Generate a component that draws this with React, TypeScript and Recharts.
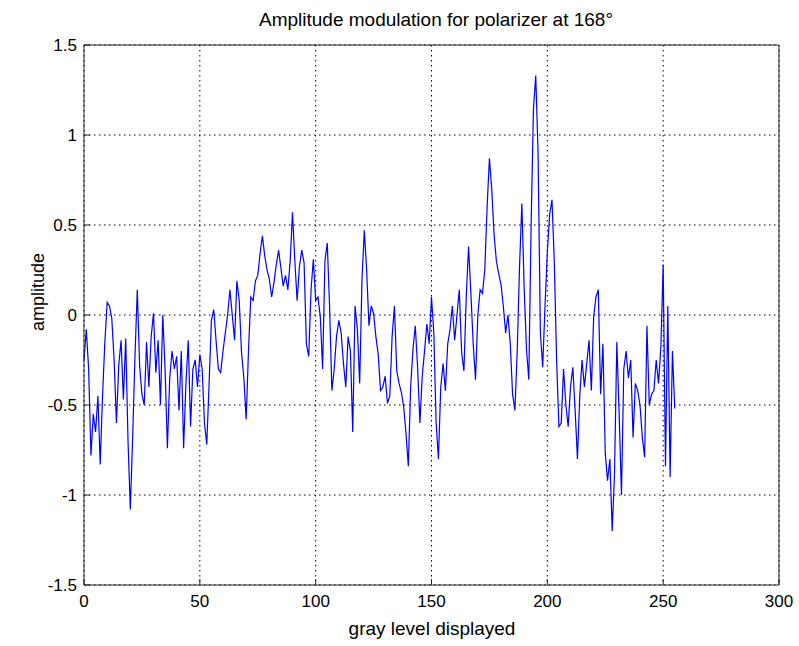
import React from "react";
import { LineChart, Line, XAxis, YAxis, CartesianGrid } from "recharts";

const TITLE = "Amplitude modulation for polarizer at 168°";
const X_LABEL = "gray level displayed";
const Y_LABEL = "amplitude";

const X_TICKS = [0, 50, 100, 150, 200, 250, 300];
const Y_TICKS = [-1.5, -1, -0.5, 0, 0.5, 1, 1.5];

// amplitude, gray levels 0..255 in four chunks
const AMP_A = [
  -0.25, -0.08, -0.3, -0.78, -0.55, -0.65, -0.45, -0.83, -0.45, -0.15, 0.07, 0.05, -0.02, -0.25, -0.6, -0.28,
  -0.14, -0.47, -0.13, -0.7, -1.08, -0.68, -0.23, 0.14, -0.28, -0.44, -0.5, -0.15, -0.4, -0.12, 0.01, -0.32,
  -0.14, -0.5, 0.0, -0.3, -0.74, -0.35, -0.2, -0.3, -0.23, -0.53, -0.2, -0.74, -0.38, -0.14, -0.62, -0.3,
  -0.25, -0.4, -0.22, -0.3, -0.6, -0.72, -0.38, -0.03, 0.03, -0.14, -0.3, -0.32, -0.2, -0.1, 0.0, 0.14,
];
const AMP_B = [
  0.0, -0.14, 0.19, 0.08, -0.21, -0.35, -0.58, -0.2, 0.1, 0.08, 0.19, 0.22, 0.34, 0.44, 0.33, 0.25,
  0.2, 0.1, 0.18, 0.28, 0.36, 0.26, 0.16, 0.22, 0.14, 0.3, 0.57, 0.3, 0.08, 0.27, 0.36, 0.29,
  -0.16, -0.23, 0.14, 0.31, 0.08, 0.1, -0.01, -0.3, 0.3, 0.4, 0.05, -0.42, -0.3, -0.12, -0.03, -0.1,
  -0.27, -0.4, -0.12, -0.2, -0.65, 0.05, -0.08, -0.38, 0.2, 0.47, 0.25, -0.06, 0.05, 0.01, -0.12, -0.22,
];
const AMP_C = [
  -0.42, -0.4, -0.34, -0.49, -0.45, -0.12, 0.05, -0.31, -0.38, -0.43, -0.51, -0.66, -0.84, -0.4, -0.19, -0.06,
  -0.29, -0.6, -0.34, -0.2, -0.05, -0.16, 0.1, -0.1, -0.6, -0.8, -0.4, -0.27, -0.42, -0.16, -0.08, 0.05,
  -0.14, 0.0, 0.14, -0.21, -0.31, 0.1, 0.38, 0.12, -0.16, -0.36, 0.0, 0.14, 0.12, 0.25, 0.6, 0.87,
  0.7, 0.45, 0.3, 0.23, 0.17, 0.05, -0.1, 0.0, -0.16, -0.44, -0.53, -0.2, 0.27, 0.62, 0.15, -0.19,
];
const AMP_D = [
  -0.36, 0.5, 1.14, 1.33, 0.9, -0.1, -0.29, 0.05, 0.35, 0.56, 0.64, 0.3, -0.25, -0.62, -0.6, -0.3,
  -0.5, -0.62, -0.4, -0.29, -0.53, -0.8, -0.45, -0.25, -0.4, -0.27, -0.14, -0.42, -0.01, 0.1, 0.14, -0.44,
  -0.16, -0.77, -0.92, -0.8, -1.2, -0.88, -0.15, -0.55, -1.0, -0.3, -0.2, -0.35, -0.25, -0.68, -0.38, -0.42,
  -0.5, -0.68, -0.79, -0.06, -0.5, -0.44, -0.42, -0.25, -0.38, -0.18, 0.28, -0.84, 0.05, -0.9, -0.2, -0.52,
];

const AMPLITUDE = [...AMP_A, ...AMP_B, ...AMP_C, ...AMP_D];
const data = AMPLITUDE.map((v, i) => ({ level: i, amp: v }));

const FONT = "'Liberation Sans', Arial, sans-serif";
const tickStyle = { fill: "#000", fontSize: 17, fontFamily: FONT };
const AXIS = "#222";

const textBase: React.CSSProperties = {
  position: "absolute",
  fontFamily: FONT,
  fontSize: 18,
  color: "#000",
  whiteSpace: "nowrap",
  lineHeight: 1,
};

export default function App() {
  return (
    <div style={{ position: "absolute", left: 0, top: 0, width: 799, height: 646, background: "#fff" }}>
      <LineChart width={799} height={646} data={data} margin={{ top: 40, right: 15, bottom: 31, left: 24 }}>
        <CartesianGrid stroke="#000" strokeDasharray="1.5 3.5" vertical horizontal />
        <XAxis
          dataKey="level"
          type="number"
          domain={[0, 300]}
          ticks={X_TICKS}
          height={30}
          tick={tickStyle}
          tickSize={-6}
          tickMargin={16}
          axisLine={{ stroke: AXIS }}
          tickLine={{ stroke: AXIS }}
        />
        <XAxis
          xAxisId="top"
          orientation="top"
          dataKey="level"
          type="number"
          domain={[0, 300]}
          allowDataOverflow
          ticks={X_TICKS}
          height={5}
          tick={false}
          tickSize={-6}
          axisLine={{ stroke: AXIS }}
          tickLine={{ stroke: AXIS }}
        />
        <YAxis
          type="number"
          domain={[-1.5, 1.5]}
          ticks={Y_TICKS}
          width={60}
          tick={tickStyle}
          tickSize={-6}
          tickMargin={13}
          axisLine={{ stroke: AXIS }}
          tickLine={{ stroke: AXIS }}
        />
        <YAxis
          yAxisId="right"
          orientation="right"
          type="number"
          domain={[-1.5, 1.5]}
          allowDataOverflow
          ticks={Y_TICKS}
          width={5}
          tick={false}
          tickSize={-6}
          axisLine={{ stroke: AXIS }}
          tickLine={{ stroke: AXIS }}
        />
        <Line
          dataKey="amp"
          type="linear"
          stroke="#0000ff"
          strokeWidth={1.2}
          dot={false}
          isAnimationActive={false}
        />
      </LineChart>
      <div style={{ ...textBase, fontSize: 19, left: 436, top: 19, transform: "translate(-50%, -50%)" }}>{TITLE}</div>
      <div style={{ ...textBase, fontSize: 19, left: 432, top: 628, transform: "translate(-50%, -50%)" }}>{X_LABEL}</div>
      <div style={{ ...textBase, left: 38, top: 292, transform: "translate(-50%, -50%) rotate(-90deg)" }}>{Y_LABEL}</div>
    </div>
  );
}
